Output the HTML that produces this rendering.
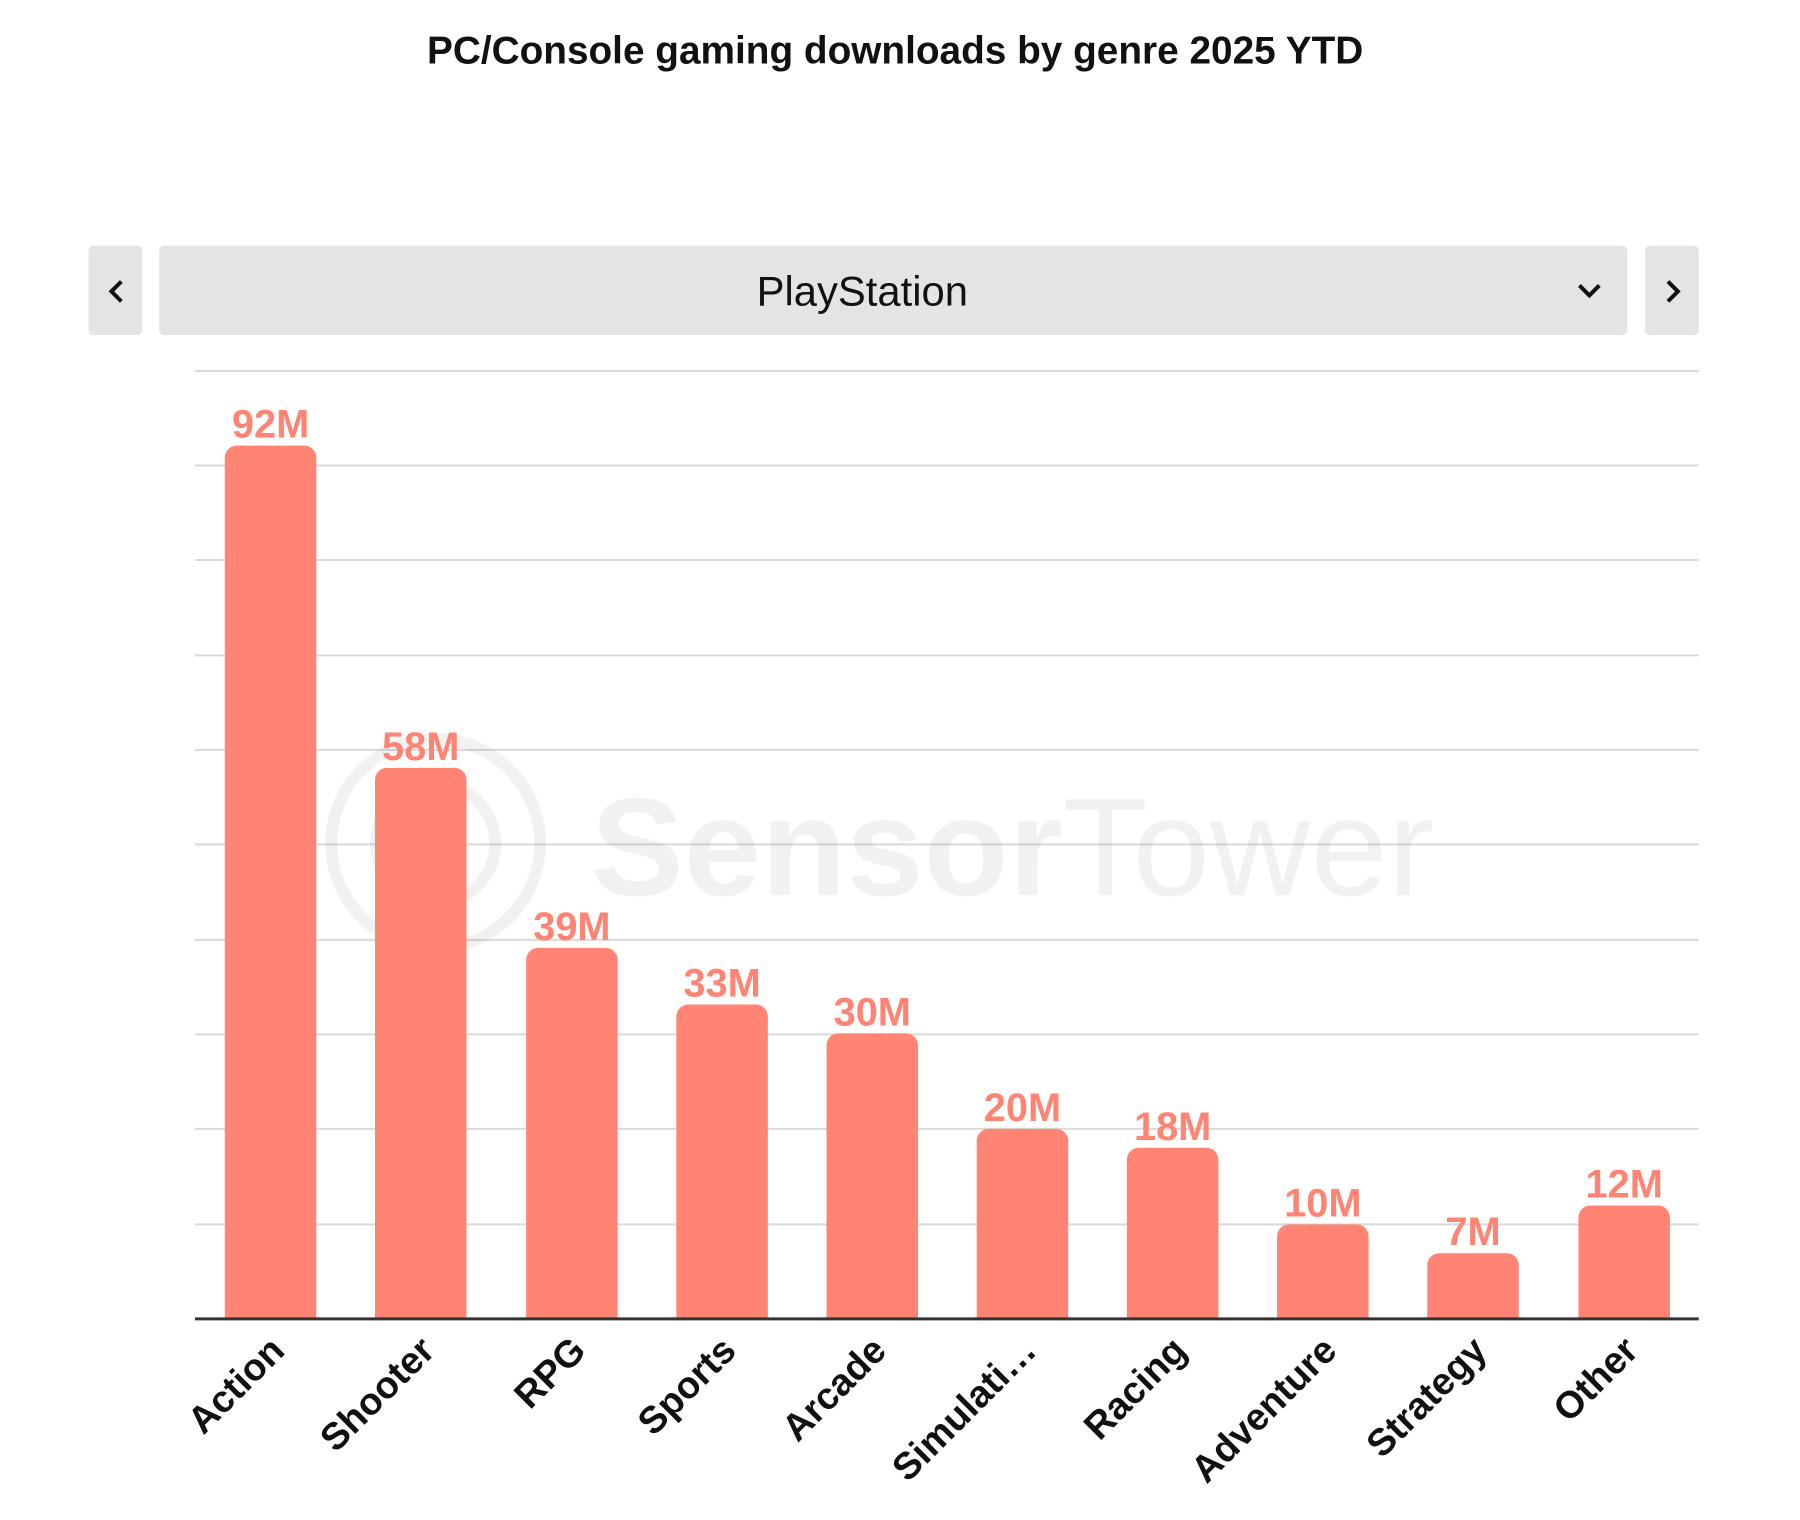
<!DOCTYPE html>
<html><head><meta charset="utf-8"><style>
html,body{margin:0;padding:0;background:#fff;}
svg{display:block;font-family:"Liberation Sans",sans-serif;}
</style></head><body>
<svg width="1800" height="1520" viewBox="0 0 1800 1520" xmlns="http://www.w3.org/2000/svg">
<g transform="scale(0.9946)">
<text x="900" y="64" text-anchor="middle" font-size="39" font-weight="bold" fill="#111">PC/Console gaming downloads by genre 2025 YTD</text>
<rect x="89" y="247" width="54" height="90" rx="5" fill="#e4e4e4"/>
<path d="M122 283 L112 293 L122 303" stroke="#111" stroke-width="4" fill="none"/>
<rect x="160" y="247" width="1476" height="90" rx="5" fill="#e4e4e4"/>
<text x="867" y="307" text-anchor="middle" font-size="42" fill="#111">PlayStation</text>
<path d="M1588 287 L1598 297 L1608 287" stroke="#111" stroke-width="4" fill="none"/>
<rect x="1654" y="247" width="54" height="90" rx="5" fill="#e4e4e4"/>
<path d="M1677 283 L1687 293 L1677 303" stroke="#111" stroke-width="4" fill="none"/>
<g stroke="#d9d9d9" stroke-width="2">
<line x1="196" x2="1708" y1="373" y2="373"/><line x1="196" x2="1708" y1="468" y2="468"/><line x1="196" x2="1708" y1="563" y2="563"/><line x1="196" x2="1708" y1="659" y2="659"/><line x1="196" x2="1708" y1="754" y2="754"/><line x1="196" x2="1708" y1="849" y2="849"/><line x1="196" x2="1708" y1="945" y2="945"/><line x1="196" x2="1708" y1="1040" y2="1040"/><line x1="196" x2="1708" y1="1135" y2="1135"/><line x1="196" x2="1708" y1="1231" y2="1231"/>
</g>
<g opacity="0.05">
<circle cx="438" cy="848" r="105" fill="none" stroke="#000" stroke-width="12"/>
<circle cx="438" cy="848" r="60" fill="none" stroke="#000" stroke-width="12"/>
<text x="594" y="900" font-size="140" font-weight="bold" fill="#000">Sensor<tspan font-weight="normal">Tower</tspan></text>
</g>
<g fill="#ff8473">
<path d="M226 1326 V460 a12 12 0 0 1 12 -12 h68 a12 12 0 0 1 12 12 V1326Z"/>
<path d="M377 1326 V784 a12 12 0 0 1 12 -12 h68 a12 12 0 0 1 12 12 V1326Z"/>
<path d="M529 1326 V965 a12 12 0 0 1 12 -12 h68 a12 12 0 0 1 12 12 V1326Z"/>
<path d="M680 1326 V1022 a12 12 0 0 1 12 -12 h68 a12 12 0 0 1 12 12 V1326Z"/>
<path d="M831 1326 V1051 a12 12 0 0 1 12 -12 h68 a12 12 0 0 1 12 12 V1326Z"/>
<path d="M982 1326 V1147 a12 12 0 0 1 12 -12 h68 a12 12 0 0 1 12 12 V1326Z"/>
<path d="M1133 1326 V1166 a12 12 0 0 1 12 -12 h68 a12 12 0 0 1 12 12 V1326Z"/>
<path d="M1284 1326 V1243 a12 12 0 0 1 12 -12 h68 a12 12 0 0 1 12 12 V1326Z"/>
<path d="M1435 1326 V1272 a12 12 0 0 1 12 -12 h68 a12 12 0 0 1 12 12 V1326Z"/>
<path d="M1587 1326 V1224 a12 12 0 0 1 12 -12 h68 a12 12 0 0 1 12 12 V1326Z"/>
</g>
<g fill="#ff8473" font-size="40" font-weight="bold" text-anchor="middle">
<text x="272" y="440">92M</text><text x="423" y="764">58M</text><text x="575" y="945">39M</text><text x="726" y="1002">33M</text><text x="877" y="1031">30M</text><text x="1028" y="1127">20M</text><text x="1179" y="1146">18M</text><text x="1330" y="1223">10M</text><text x="1481" y="1252">7M</text><text x="1633" y="1204">12M</text>
</g>
<line x1="196" x2="1708" y1="1326" y2="1326" stroke="#333" stroke-width="3"/>
<g font-size="38" font-weight="bold" fill="#111" text-anchor="end">
<text transform="translate(288,1360) rotate(-45)">Action</text>
<text transform="translate(439,1360) rotate(-45)">Shooter</text>
<text transform="translate(591,1360) rotate(-45)">RPG</text>
<text transform="translate(742,1360) rotate(-45)">Sports</text>
<text transform="translate(893,1360) rotate(-45)">Arcade</text>
<text transform="translate(1044,1360) rotate(-45)">Simulati…</text>
<text transform="translate(1195,1360) rotate(-45)">Racing</text>
<text transform="translate(1346,1360) rotate(-45)">Adventure</text>
<text transform="translate(1497,1360) rotate(-45)">Strategy</text>
<text transform="translate(1649,1360) rotate(-45)">Other</text>
</g>
</g>
</svg>
</body></html>
